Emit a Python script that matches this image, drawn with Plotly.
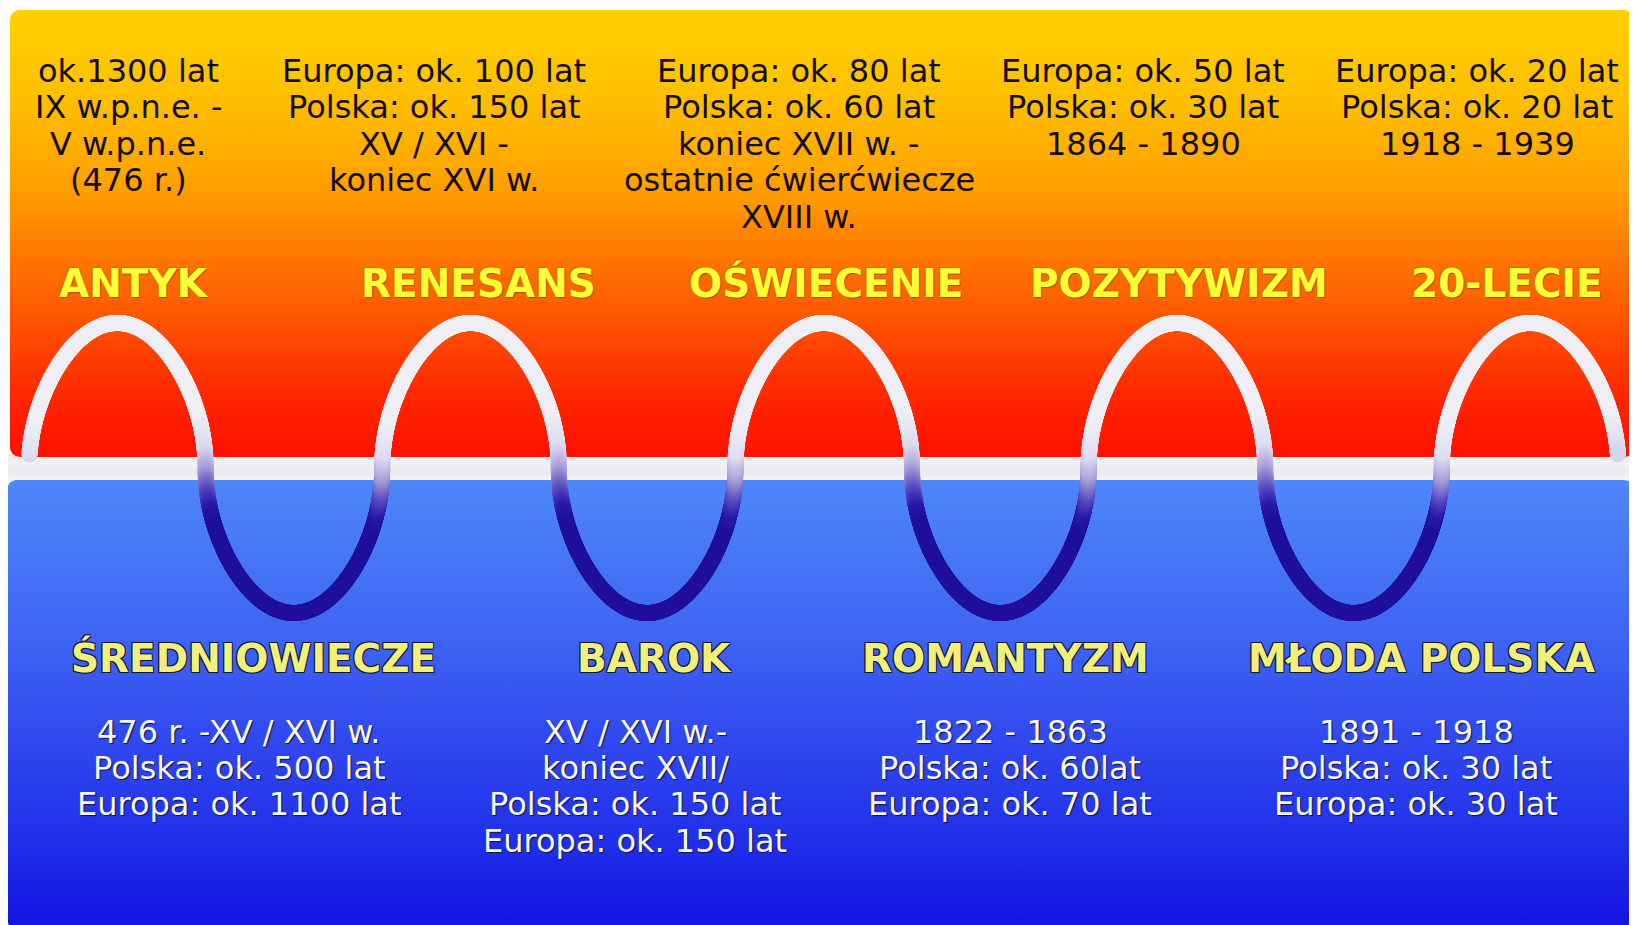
import numpy as np
import plotly.graph_objects as go

W, H = 1637, 925
PAGE_MARGIN = 8  # default body margin of the written html page

# ---------------- content ----------------
top_names = ["ANTYK", "RENESANS", "OŚWIECENIE", "POZYTYWIZM", "20-LECIE"]
top_desc = [
    ["ok.1300 lat", "IX w.p.n.e. -", "V w.p.n.e.", "(476 r.)"],
    ["Europa: ok. 100 lat", "Polska: ok. 150 lat", "XV / XVI -", "koniec XVI w."],
    ["Europa: ok. 80 lat", "Polska: ok. 60 lat", "koniec XVII w. -",
     "ostatnie ćwierćwiecze", "XVIII w."],
    ["Europa: ok. 50 lat", "Polska: ok. 30 lat", "1864 - 1890"],
    ["Europa: ok. 20 lat", "Polska: ok. 20 lat", "1918 - 1939"],
]
bottom_names = ["ŚREDNIOWIECZE", "BAROK", "ROMANTYZM", "MŁODA POLSKA"]
bottom_desc = [
    ["476 r. -XV / XVI w.", "Polska: ok. 500 lat", "Europa: ok. 1100 lat"],
    ["XV / XVI w.-", "koniec XVII/", "Polska: ok. 150 lat", "Europa: ok. 150 lat"],
    ["1822 - 1863", "Polska: ok. 60lat", "Europa: ok. 70 lat"],
    ["1891 - 1918", "Polska: ok. 30 lat", "Europa: ok. 30 lat"],
]

# ---------------- layout constants (pixel positions) ----------------
top_title_x = [134, 478, 826, 1179, 1507]
top_title_y = 283
top_desc_x = [128, 434, 799, 1143, 1477]
top_desc_y0, top_line = 71, 36.4
bottom_title_x = [253, 654, 1005, 1421]
bottom_title_y = 658
bottom_desc_x = [239, 635, 1010, 1416]
bottom_desc_y0, bottom_line = 732, 36.2

WAVE_X0, WAVE_HALF, WAVE_MID, WAVE_AMP, WAVE_P = 29, 176.6, 468, 145, 0.5
PANEL_TOP = (10, 10, 1634, 457)
PANEL_BOT = (7, 480, 1634, 929)

fig = go.Figure()


def rounded_rect(x0, y0, x1, y1, r, n=14):
    xs, ys = [], []
    for cx, cy, a0 in [(x0 + r, y0 + r, 180), (x1 - r, y0 + r, 270),
                       (x1 - r, y1 - r, 0), (x0 + r, y1 - r, 90)]:
        a = np.radians(np.linspace(a0, a0 + 90, n))
        xs.extend(cx + r * np.cos(a))
        ys.extend(cy + r * np.sin(a))
    xs.append(xs[0]); ys.append(ys[0])
    return xs, ys


def panel(rect, r, stops, start, stop):
    xs, ys = rounded_rect(*rect, r)
    fig.add_trace(go.Scatter(
        x=xs, y=ys, mode="lines", fill="toself", line=dict(width=0),
        fillgradient=dict(type="vertical", colorscale=stops, start=start, stop=stop),
        hoverinfo="skip"))


# gap band between panels
panel((8, 454, 1637, 484), 0,
      [[0, "#f6e4e0"], [0.3, "#f2f1f4"], [0.6, "#eaeaef"], [0.85, "#f4f6fb"], [1, "#d6e8ff"]],
      454, 484)
# top (warm) panel
panel(PANEL_TOP, 10,
      [[0, "#ffd000"], [0.2, "#ffbf00"], [0.4, "#ff9f00"], [0.55, "#ff7800"],
       [0.65, "#ff6000"], [0.75, "#ff4400"], [0.88, "#ff2400"], [1, "#ff1000"]],
      PANEL_TOP[1], PANEL_TOP[3])
# bottom (cool) panel
panel(PANEL_BOT, 10,
      [[0, "#4e87f8"], [0.15, "#4778f6"], [0.4, "#3b5ff2"], [0.6, "#2f46ee"],
       [0.8, "#2030ea"], [1, "#1412e2"]],
      PANEL_BOT[1], PANEL_BOT[3])

# ---------------- wave: one arch per epoch, alternating up / down ----------------
sequence = []
for i in range(len(top_names) + len(bottom_names)):
    sequence.append(("top", i // 2) if i % 2 == 0 else ("bottom", i // 2))

wx, wy = [], []
t = np.linspace(0, 1, 4000)
for i, (side, _) in enumerate(sequence):
    s = np.sin(np.pi * t) ** WAVE_P
    y = WAVE_MID - WAVE_AMP * s if side == "top" else WAVE_MID + WAVE_AMP * s
    x = WAVE_X0 + (i + t) * WAVE_HALF
    keep = np.ones_like(t, dtype=bool)
    if i == 0:
        keep &= ~((t < 0.5) & (y > 455))
    if i == len(sequence) - 1:
        keep &= ~((t > 0.5) & (y > 455))
    wx.append(x[keep]); wy.append(y[keep])
wx = np.concatenate(wx); wy = np.concatenate(wy)
seg = np.hypot(np.diff(wx), np.diff(wy))
cum = np.concatenate([[0], np.cumsum(seg)])
L = np.arange(0, cum[-1], 0.6)
px = np.interp(L, cum, wx)
py = np.interp(L, cum, wy)

fig.add_trace(go.Scatter(
    x=px, y=py, mode="markers",
    marker=dict(size=16, color=py, cmin=420, cmax=525, line=dict(width=0),
                colorscale=[[0, "#eeeef4"], [0.3, "#dcdcf0"], [0.5, "#aaa2dc"],
                            [0.7, "#5a4cc0"], [0.85, "#2c1caa"], [1, "#20109c"]]),
    hoverinfo="skip"))

# ---------------- texts ----------------
ann = []
FAM = "DejaVu Sans"
for name, x in zip(top_names, top_title_x):
    ann.append(dict(x=x, y=top_title_y, text=name,
                    font=dict(family=FAM, size=39, weight=700, color="#ffff33",
                              shadow="1px 1px 1px #a05000, -1px -1px 1px #c07000")))
for lines, x in zip(top_desc, top_desc_x):
    for k, line in enumerate(lines):
        ann.append(dict(x=x, y=top_desc_y0 + k * top_line, text=line,
                        font=dict(family=FAM, size=32, color="#140e0a")))
for name, x in zip(bottom_names, bottom_title_x):
    ann.append(dict(x=x, y=bottom_title_y, text=name,
                    font=dict(family=FAM, size=39, weight=700, color="#f2f07a",
                              shadow="1px 1px 0 #15153a, -1px -1px 0 #15153a, 1px -1px 0 #15153a, -1px 1px 0 #15153a")))
for lines, x in zip(bottom_desc, bottom_desc_x):
    for k, line in enumerate(lines):
        ann.append(dict(x=x, y=bottom_desc_y0 + k * bottom_line, text=line,
                        font=dict(family=FAM, size=32, color="#f6f6f8",
                                  shadow="1px 1px 1px #10104a")))
for a in ann:
    a.update(xref="x", yref="y", showarrow=False, xanchor="center", yanchor="middle")

fig.update_layout(
    width=W, height=H, margin=dict(l=0, r=0, t=0, b=0),
    paper_bgcolor="white", plot_bgcolor="white", showlegend=False,
    hovermode=False, annotations=ann,
    xaxis=dict(range=[PAGE_MARGIN, W + PAGE_MARGIN], visible=False, fixedrange=True),
    yaxis=dict(range=[H + PAGE_MARGIN, PAGE_MARGIN], visible=False, fixedrange=True),
)
fig.write_html("out.html")
